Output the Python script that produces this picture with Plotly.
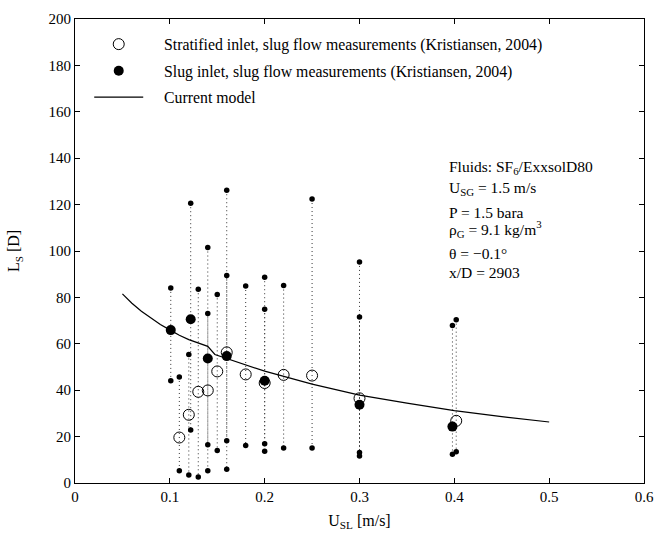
import plotly.graph_objects as go

# ---------------- data ----------------
# Stratified inlet (open circles): mean, max, min slug lengths
strat_x = [0.11, 0.12, 0.13, 0.14, 0.15, 0.16, 0.18, 0.20, 0.22, 0.25, 0.30, 0.402]
strat_mean = [19.6, 29.4, 39.3, 39.9, 48.1, 56.3, 46.8, 43.1, 46.6, 46.3, 36.5, 26.8]
strat_max = [45.7, 55.4, 83.5, 73.1, 81.3, 126.2, 84.9, 88.7, 85.1, 122.4, 95.3, 70.4]
strat_min = [5.3, 3.4, 2.6, 5.3, 14.0, 5.9, 16.2, 16.9, 15.1, 15.1, 13.2, 13.5]

# Slug inlet (filled circles)
slug_x = [0.101, 0.122, 0.14, 0.16, 0.20, 0.30, 0.398]
slug_mean = [65.9, 70.6, 53.7, 54.7, 44.1, 33.7, 24.3]
slug_max = [84.1, 120.6, 101.5, 89.4, 74.9, 71.5, 67.9]
slug_min = [44.1, 22.8, 16.5, 18.2, 13.7, 11.6, 12.4]

# Current model curve
model_x = [0.05, 0.06, 0.07, 0.08, 0.09, 0.10, 0.11, 0.12, 0.13, 0.14, 0.1475,
           0.16, 0.18, 0.20, 0.25, 0.30, 0.35, 0.40, 0.45, 0.50]
model_y = [81.5, 77.5, 74.0, 71.0, 68.3, 66.0, 63.7, 61.8, 60.2, 58.9, 55.4,
           53.7, 50.8, 48.2, 42.6, 37.9, 34.4, 31.2, 28.6, 26.3]

x_ticks = [0, 0.1, 0.2, 0.3, 0.4, 0.5, 0.6]
x_tick_labels = ["0", "0.1", "0.2", "0.3", "0.4", "0.5", "0.6"]
y_ticks = [0, 20, 40, 60, 80, 100, 120, 140, 160, 180, 200]

legend_names = [
    "Stratified inlet, slug flow measurements (Kristiansen, 2004)",
    "Slug inlet, slug flow measurements (Kristiansen, 2004)",
    "Current model",
]

info_lines = [
    "Fluids: SF<sub>6</sub>/ExxsolD80",
    "U<sub>SG</sub> = 1.5 m/s",
    "P = 1.5 bara",
    "ρ<sub>G</sub> = 9.1 kg/m<sup>3</sup>",
    "θ = −0.1°",
    "x/D = 2903",
]

FONT = "Liberation Serif, Times New Roman, DejaVu Serif, serif"
PAD = "\u00a0" * 4

# ---------------- build ranges ----------------
rng_x, rng_y = [], []
for xs, mx, mn in ((strat_x, strat_max, strat_min), (slug_x, slug_max, slug_min)):
    for x, a, b in zip(xs, mx, mn):
        rng_x += [x, x, None]
        rng_y += [a, b, None]

dots_x = strat_x + strat_x + slug_x + slug_x
dots_y = strat_max + strat_min + slug_max + slug_min

fig = go.Figure()

fig.add_trace(go.Scatter(
    x=rng_x, y=rng_y, mode="lines",
    line=dict(color="#333333", width=1, dash="1px,3px"),
    showlegend=False, hoverinfo="skip"))

fig.add_trace(go.Scatter(
    x=dots_x, y=dots_y, mode="markers",
    marker=dict(color="black", size=5.5),
    showlegend=False))

fig.add_trace(go.Scatter(
    x=strat_x, y=strat_mean, mode="markers", name=PAD + legend_names[0],
    legendgroup="a",
    marker=dict(symbol="circle-open", color="black", size=11, line=dict(width=1))))

fig.add_trace(go.Scatter(
    x=slug_x, y=slug_mean, mode="markers", name=PAD + legend_names[1],
    legendgroup="b",
    marker=dict(symbol="circle", color="black", size=10)))

fig.add_trace(go.Scatter(
    x=model_x, y=model_y, mode="lines", name=PAD + legend_names[2],
    legendgroup="c",
    line=dict(color="black", width=1.2)))

info_y = [136.0, 127.0, 116.8, 109.4, 99.0, 90.8]
for txt, yy in zip(info_lines, info_y):
    fig.add_annotation(x=0.3923, y=yy, xref="x", yref="y", text=txt,
                       showarrow=False, xanchor="left", yanchor="middle",
                       font=dict(family=FONT, size=15.5, color="black"))

axis_common = dict(showline=True, linecolor="black", linewidth=1, mirror="ticks",
                   ticks="inside", ticklen=5, tickcolor="black", showgrid=False,
                   zeroline=False, tickfont=dict(family=FONT, size=15, color="black"))

fig.update_xaxes(range=[0, 0.6], tickvals=x_ticks, ticktext=x_tick_labels,
                 title=dict(text="U<sub>SL</sub> [m/s]", font=dict(family=FONT, size=16, color="black"),
                            standoff=10),
                 **axis_common)
fig.update_yaxes(range=[0, 200], tickvals=y_ticks,
                 title=dict(text="L<sub>S</sub> [D]", font=dict(family=FONT, size=16, color="black"),
                            standoff=24),
                 **axis_common)

fig.update_layout(
    width=654, height=538,
    margin=dict(l=75, r=10, t=19, b=55, autoexpand=False),
    paper_bgcolor="white", plot_bgcolor="white",
    font=dict(family=FONT, color="black"),
    legend=dict(x=0.025, y=0.982, xanchor="left", yanchor="top",
                bgcolor="rgba(0,0,0,0)", borderwidth=0,
                font=dict(family=FONT, size=15.8, color="black"),
                itemwidth=49, tracegroupgap=3),
    showlegend=True,
)

fig.write_html("out.html")
